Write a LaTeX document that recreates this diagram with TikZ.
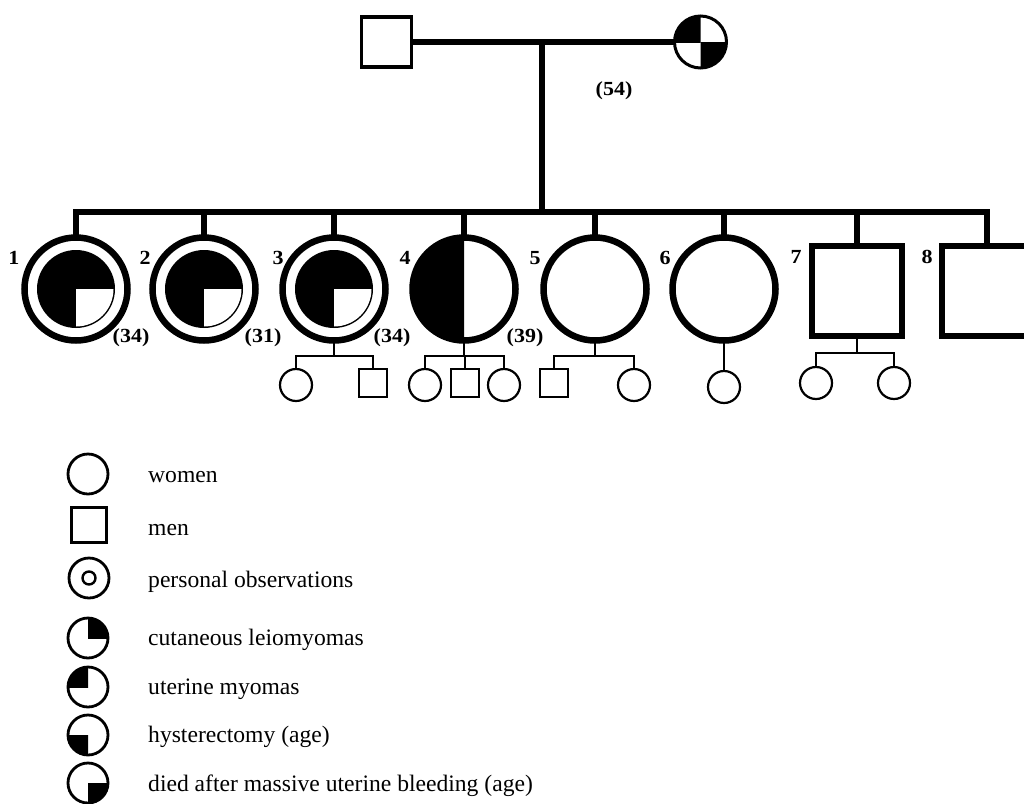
\documentclass[tikz,border=0pt]{standalone}
\usepackage{fontspec}
\setmainfont{Liberation Serif}
\usepackage{graphicx}
\begin{document}
\begin{tikzpicture}[x=1pt,y=-1pt,
  heavy/.style={line width=5.5pt},
  light/.style={line width=2.2pt},
  bigcirc/.style={circle,draw,line width=6.5pt,minimum size=103pt,inner sep=0pt,outer sep=0pt},
  bigsq/.style={rectangle,draw,line width=6.5pt,minimum size=90pt,inner sep=0pt,outer sep=0pt},
  smallcirc/.style={circle,draw,line width=2.2pt,minimum size=32pt,inner sep=0pt,outer sep=0pt},
  smallsq/.style={rectangle,draw,line width=2.2pt,minimum size=28pt,inner sep=0pt,outer sep=0pt},
  legcirc/.style={circle,draw,line width=2.8pt,minimum size=40pt,inner sep=0pt,outer sep=0pt},
  legsq/.style={rectangle,draw,line width=2.8pt,minimum size=35pt,inner sep=0pt,outer sep=0pt},
  num/.style={font=\bfseries\fontsize{20}{20}\selectfont,inner sep=0pt},
  legtext/.style={anchor=base west,font=\fontsize{23.6}{25}\selectfont,inner sep=0pt}
]
\useasboundingbox (0,0) rectangle (1024,803);

% parents
\node[rectangle,draw,line width=3.5pt,minimum size=50pt,inner sep=0pt,outer sep=0pt] (F) at (386.5,42) {};
\node[circle,draw,line width=3pt,minimum size=52pt,inner sep=0pt,outer sep=0pt] (M) at (700.5,42) {};
\begin{scope}\clip (M.center) rectangle ++(-30,-30); \fill (M.center) circle (26);\end{scope}
\begin{scope}\clip (M.center) rectangle ++(30,30); \fill (M.center) circle (26);\end{scope}
\coordinate (m) at (542,42);
\coordinate (bar) at (542,212);
\draw[heavy] (F) -- (M);
\draw[heavy] (m) -- (bar);
\node[num] (age0) at (614,91) {\scalebox{1.1}[1]{(54)}};

% siblings
\node[bigcirc] (c1) at (76,289) {};
\node[bigcirc] (c2) at (204,289) {};
\node[bigcirc] (c3) at (334,289) {};
\node[bigcirc] (c4) at (464,289) {};
\node[bigcirc] (c5) at (595,289) {};
\node[bigcirc] (c6) at (724,289) {};
\node[bigsq] (s7) at (857,291) {};
\node[bigsq] (s8) at (987,291) {};
\foreach \n in {c1,c2,c3,c4,c5,c6,s7,s8}{\draw[heavy] (bar) -| (\n.north);}

\foreach \n in {c1,c2,c3}{
  \fill (\n.center) circle (39);
  \begin{scope}\clip (\n.center) rectangle ++(45,45); \fill[white] (\n.center) circle (37.5);\end{scope}
}
\begin{scope}\clip (c4.center) ++(-60,-60) rectangle ++(60,120); \fill (c4.center) circle (51.5);\end{scope}

\node[num] (n1) at (14,258) {\scalebox{1.1}[1]{1}};
\node[num] (n2) at (145,258) {\scalebox{1.1}[1]{2}};
\node[num] (n3) at (278,258) {\scalebox{1.1}[1]{3}};
\node[num] (n4) at (405,258) {\scalebox{1.1}[1]{4}};
\node[num] (n5) at (535,258) {\scalebox{1.1}[1]{5}};
\node[num] (n6) at (665,258) {\scalebox{1.1}[1]{6}};
\node[num] (n7) at (796,257) {\scalebox{1.1}[1]{7}};
\node[num] (n8) at (927,257) {\scalebox{1.1}[1]{8}};
\node[num] (a1) at (131,338) {\scalebox{1.1}[1]{(34)}};
\node[num] (a2) at (263,338) {\scalebox{1.1}[1]{(31)}};
\node[num] (a3) at (392,338) {\scalebox{1.1}[1]{(34)}};
\node[num] (a4) at (525,338) {\scalebox{1.1}[1]{(39)}};

% grandchildren
\node[smallcirc] (k31) at (296,385) {};
\node[smallsq] (k32) at (373,383) {};
\coordinate (f3) at (334,356);
\draw[light] (c3.south) -- (f3);
\draw[light] (f3) -| (k31.north);
\draw[light] (f3) -| (k32.north);

\node[smallcirc] (k41) at (425,385) {};
\node[smallsq] (k42) at (465,383) {};
\node[smallcirc] (k43) at (504,385) {};
\coordinate (f4) at (464,356);
\draw[light] (c4.south) -- (f4);
\draw[light] (f4) -| (k41.north);
\draw[light] (f4) -| (k42.north);
\draw[light] (f4) -| (k43.north);

\node[smallsq] (k51) at (554,383) {};
\node[smallcirc] (k52) at (634,385) {};
\coordinate (f5) at (595,356);
\draw[light] (c5.south) -- (f5);
\draw[light] (f5) -| (k51.north);
\draw[light] (f5) -| (k52.north);

\node[smallcirc] (k61) at (724,387) {};
\draw[light] (c6.south) -- (k61.north);

\node[smallcirc] (k71) at (816,383) {};
\node[smallcirc] (k72) at (894,383) {};
\coordinate (f7) at (857,353);
\draw[light] (s7.south) -- (f7);
\draw[light] (f7) -| (k71.north);
\draw[light] (f7) -| (k72.north);

% legend
\node[legcirc] (L1) at (88,474) {};
\node[legsq] (L2) at (89,525) {};
\node[legcirc] (L3) at (89,578) {};
\node[circle,draw,line width=2.4pt,minimum size=13pt,inner sep=0pt] (L3i) at (L3.center) {};
\node[legcirc] (L4) at (88,638) {};
\begin{scope}\clip (L4.center) rectangle ++(25,-25); \fill (L4.center) circle (20);\end{scope}
\node[legcirc] (L5) at (88,687) {};
\begin{scope}\clip (L5.center) rectangle ++(-25,-25); \fill (L5.center) circle (20);\end{scope}
\node[legcirc] (L6) at (88,735) {};
\begin{scope}\clip (L6.center) rectangle ++(-25,25); \fill (L6.center) circle (20);\end{scope}
\node[legcirc] (L7) at (88,783) {};
\begin{scope}\clip (L7.center) rectangle ++(25,25); \fill (L7.center) circle (20);\end{scope}

\node[legtext] (T1) at (148,482) {women};
\node[legtext] (T2) at (148,535) {men};
\node[legtext] (T3) at (148,587) {personal observations};
\node[legtext] (T4) at (148,645) {cutaneous leiomyomas};
\node[legtext] (T5) at (148,694) {uterine myomas};
\node[legtext] (T6) at (148,742) {hysterectomy (age)};
\node[legtext] (T7) at (148,791) {died after massive uterine bleeding (age)};
\end{tikzpicture}
\end{document}
